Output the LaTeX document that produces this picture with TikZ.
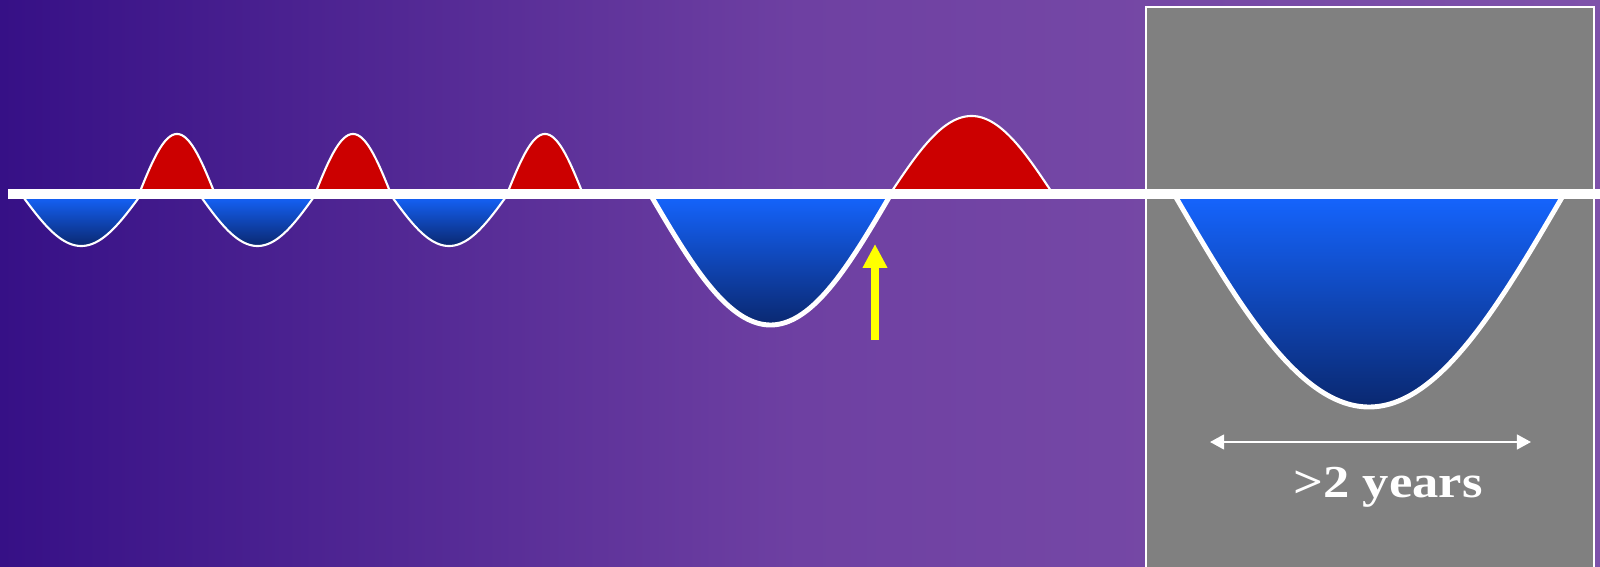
\documentclass[tikz,border=0pt]{standalone}
\usepackage{fontspec}
\setmainfont{Liberation Serif}
\usetikzlibrary{arrows.meta}
\definecolor{bgL}{RGB}{54,16,134}
\definecolor{bgM}{RGB}{110,64,162}
\definecolor{bgR}{RGB}{126,82,170}
\definecolor{bluetop}{RGB}{21,101,255}
\definecolor{bluebot}{RGB}{10,40,112}
\definecolor{redfill}{RGB}{204,0,0}
\definecolor{boxgrey}{RGB}{128,128,128}
\definecolor{arrowyellow}{RGB}{255,255,0}
% lobe: #1 start x, #2 end x, #3 amplitude (positive = down), #4 style
\newcommand\lobe[4]{\path[#4] plot[domain=#1:#2,samples=100] (\x,{194+(#3)*sin(180/(#2-#1)*(\x-#1))}) -- cycle;}
\begin{document}
\begin{tikzpicture}[x=0.01cm,y=-0.01cm,
  trough/.style={top color=bluetop,bottom color=bluebot,draw=white,line join=round},
  crest/.style={fill=redfill,draw=white,line join=round},
  lobethin/.style={line width=0.6pt},
  lobethick/.style={line width=1.4pt}]
\useasboundingbox (0,0) rectangle (1600,567);
\shade[left color=bgL,right color=bgR,middle color=bgM] (0,0) rectangle (1600,567);
% grey panel
\fill[boxgrey,draw=white,line width=0.6pt] (1146,7) rectangle (1594,575);
% small waves
\lobe{21}{141.5}{52}{trough,lobethin}
\lobe{139}{215}{-60}{crest,lobethin}
\lobe{199}{316}{52}{trough,lobethin}
\lobe{315}{391}{-60}{crest,lobethin}
\lobe{390}{508}{52}{trough,lobethin}
\lobe{507}{583}{-60}{crest,lobethin}
% large waves
\lobe{650}{891}{131}{trough,lobethick}
\lobe{890}{1053}{-78}{crest,lobethin}
\lobe{1174}{1564}{213}{trough,lobethick}
% baseline
\coordinate (bl) at (8,194);
\coordinate (br) at (1600,194);
\draw[white,line width=2.85pt] (bl) -- (br);
% yellow arrow
\coordinate (ya) at (875,340);
\coordinate (yb) at (875,244);
\draw[arrowyellow,line width=2.15pt,-{Triangle[length=6.8pt,width=6.6pt]}] (ya) -- (yb);
% double arrow
\coordinate (dl) at (1210,442);
\coordinate (dr) at (1531,442);
\draw[white,line width=0.6pt,{Triangle[length=4pt,width=4.2pt]}-{Triangle[length=4pt,width=4.2pt]}] (dl) -- (dr);
\node[text=white,font=\bfseries\fontsize{13}{13}\selectfont,xscale=1.15,anchor=base,inner sep=0pt] (lbl) at (1388,497) {>2 years};
\end{tikzpicture}
\end{document}
